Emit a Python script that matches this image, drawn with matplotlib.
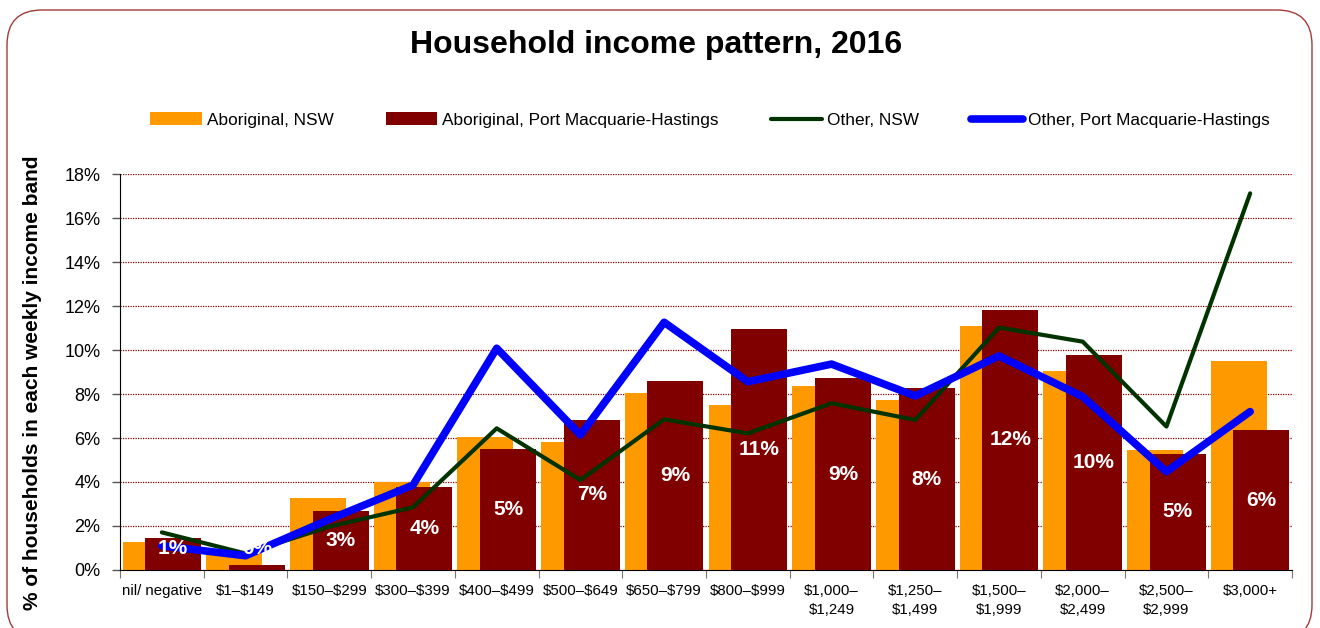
import numpy as np
import matplotlib
matplotlib.use("Agg")
import matplotlib.pyplot as plt
from matplotlib.patches import FancyBboxPatch
from matplotlib.ticker import FixedLocator, FuncFormatter

plt.rcParams['font.family'] = ['Liberation Sans', 'DejaVu Sans']
plt.rcParams['text.parse_math'] = False

# income bands (weekly)
bands = ["nil/ negative", "$1\u2013$149", "$150\u2013$299", "$300\u2013$399",
         "$400\u2013$499", "$500\u2013$649", "$650\u2013$799", "$800\u2013$999",
         "$1,000\u2013\n$1,249", "$1,250\u2013\n$1,499", "$1,500\u2013\n$1,999",
         "$2,000\u2013\n$2,499", "$2,500\u2013\n$2,999", "$3,000+"]

# % of households in each band
aboriginal_nsw = [1.26, 0.77, 3.26, 4.02, 6.03, 5.80, 8.03, 7.50, 8.36, 7.71,
                  11.08, 9.05, 5.45, 9.50]
aboriginal_pmh = [1.47, 0.21, 2.67, 3.77, 5.48, 6.82, 8.59, 10.97, 8.71, 8.26,
                  11.83, 9.79, 5.29, 6.35]
other_nsw = [1.71, 0.75, 1.97, 2.85, 6.44, 4.09, 6.85, 6.21, 7.58, 6.82,
             11.02, 10.38, 6.52, 17.12]
other_pmh = [1.10, 0.65, 2.30, 3.86, 10.08, 6.14, 11.26, 8.56, 9.36, 7.91,
             9.73, 7.88, 4.47, 7.20]


def main():
    fig = plt.figure(figsize=(13.2, 6.28), dpi=100)
    ax = fig.add_axes([120 / 1320, 1 - 570 / 628, 1172 / 1320, 396 / 628])

    x = np.arange(len(bands))
    w = 0.67

    b1 = ax.bar(x - 0.135, aboriginal_nsw, w, color="#FF9900", zorder=2,
                label="Aboriginal, NSW")
    b2 = ax.bar(x + 0.135, aboriginal_pmh, w, color="#800000", zorder=3,
                label="Aboriginal, Port Macquarie-Hastings")
    l1, = ax.plot(x, other_nsw, color="#003300", lw=3, zorder=4,
                  solid_capstyle="round", label="Other, NSW")
    l2, = ax.plot(x, other_pmh, color="#0000FF", lw=5.5, zorder=5,
                  solid_capstyle="round", label="Other, Port Macquarie-Hastings")

    # value labels on the local Aboriginal bars
    for xi, v in zip(x + 0.135, aboriginal_pmh):
        ax.text(xi, max(v / 2, 1.0), "{:.0f}%".format(v), color="white",
                fontsize=15, fontweight="bold", ha="center", va="center",
                zorder=6)

    ax.set_xlim(-0.5, len(bands) - 0.5)
    ax.set_ylim(0, 18)

    ax.yaxis.set_major_locator(FixedLocator(np.arange(0, 19, 2)))
    ax.yaxis.set_major_formatter(FuncFormatter(lambda v, p: "{:.0f}%".format(v)))
    ax.tick_params(axis="y", direction="out", length=6, width=1,
                   color="#555555", labelsize=13, pad=8)
    ax.grid(axis="y", color="#8B0000", linestyle=(0, (1, 1)), lw=0.9, zorder=1)

    ax.xaxis.set_major_locator(FixedLocator(np.arange(-0.5, len(bands), 1)))
    ax.xaxis.set_major_formatter(FuncFormatter(lambda v, p: ""))
    ax.xaxis.set_minor_locator(FixedLocator(x))
    ax.set_xticklabels(bands, minor=True)
    ax.tick_params(axis="x", which="major", direction="out", length=6,
                   color="#777777")
    ax.tick_params(axis="x", which="minor", length=0, labelsize=10.8, pad=10)
    for t in ax.get_xticklabels(minor=True):
        t.set_linespacing(1.5)

    for s in ("top", "right"):
        ax.spines[s].set_visible(False)
    ax.spines["left"].set_color("black")
    ax.spines["bottom"].set_color("black")
    ax.set_axisbelow(True)

    fig.text(0.497, 1 - 45 / 628, "Household income pattern, 2016",
             fontsize=23, fontweight="bold", ha="center", va="center")
    fig.text(33 / 1320, 1 - 383 / 628,
             "% of households in each weekly income band",
             fontsize=15, fontweight="bold", rotation=90,
             ha="center", va="center")

    fig.legend(handles=[b1, b2, l1, l2],
               loc="center", bbox_to_anchor=(710 / 1320, 1 - 120 / 628),
               ncol=4, frameon=False, fontsize=12.4, handlelength=3.0,
               handletextpad=0.3, columnspacing=3.0)

    # rounded border round the whole chart
    border = FancyBboxPatch((7, -12), 1305, 630,
                            boxstyle="round,pad=0,rounding_size=35",
                            fill=False, edgecolor="#A33A3A", lw=1,
                            transform=None)
    fig.add_artist(border)

    fig.savefig("out.png", dpi=100)
    plt.close(fig)


if __name__ == "__main__":
    main()
